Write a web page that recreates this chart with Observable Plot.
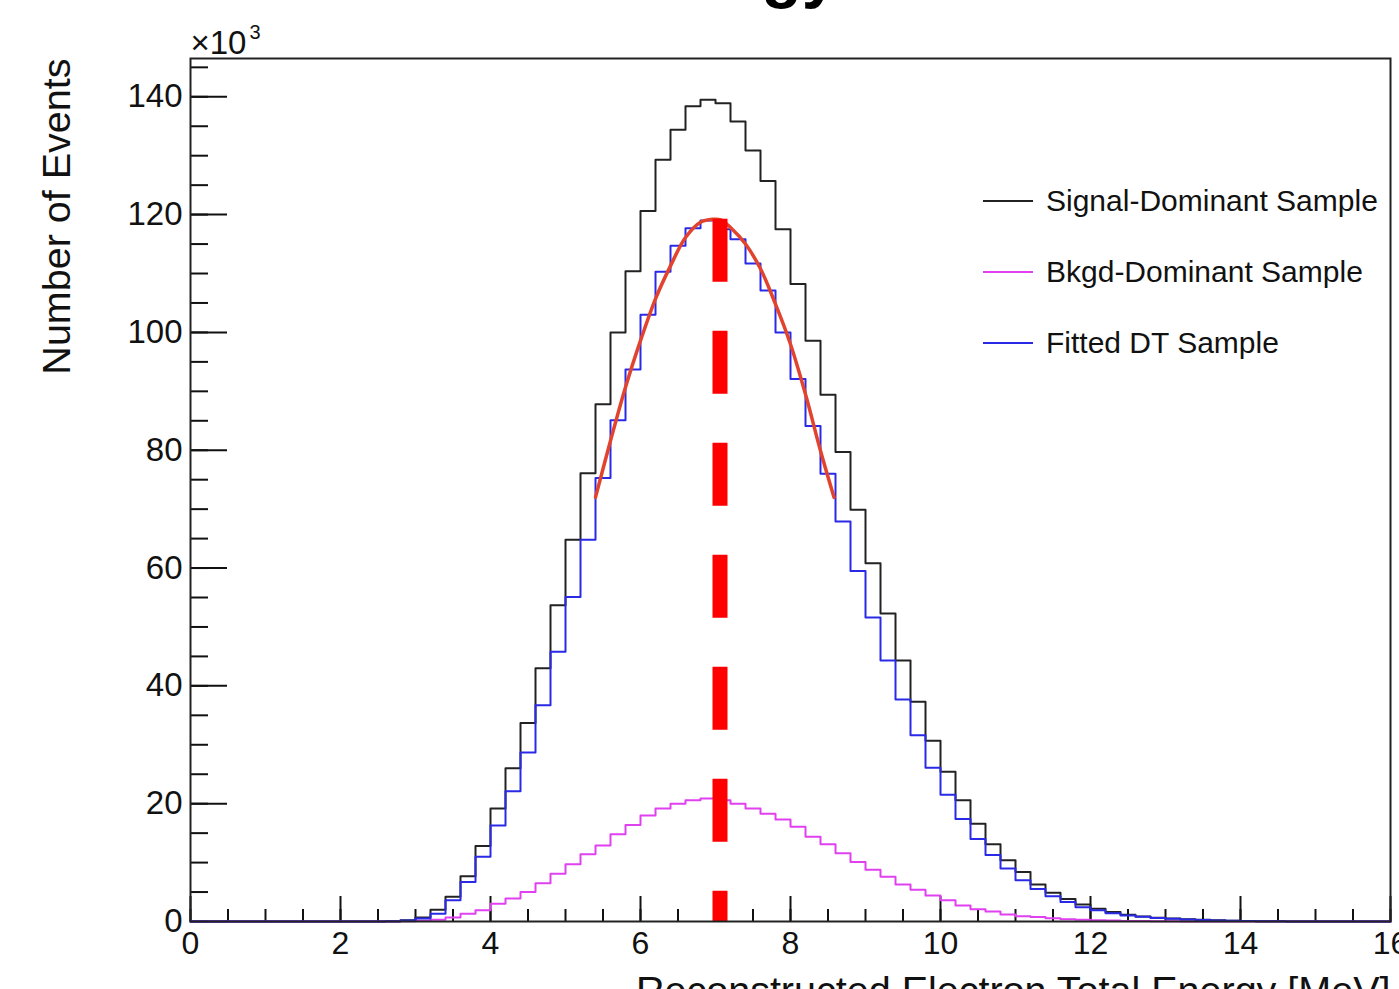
<!DOCTYPE html>
<html>
<head>
<meta charset="utf-8">
<script src="https://cdn.jsdelivr.net/npm/d3@7"></script>
<script src="https://cdn.jsdelivr.net/npm/@observablehq/plot@0.6"></script>
<style>
html,body{margin:0;padding:0;background:#fff;overflow:hidden;}
#wrap{position:relative;width:1399px;height:989px;font-family:"Liberation Sans",Arial,Helvetica,sans-serif;}
#legend{position:absolute;left:983px;top:0;}
.row{position:absolute;left:0;height:40px;display:flex;align-items:center;white-space:nowrap;font-size:30px;color:#111;}
.swatch{width:50px;height:2px;margin-right:13px;}
</style>
</head>
<body>
<div id="wrap"><div id="legend"></div></div>
<script>
// ---- data (thousands of events per 0.2 MeV bin, first bin starts at 2.6 MeV) ----
const binWidth = 0.2;
const firstBin = 2.6;
const signalDominant = [0.05,0.2,0.7,2.0,4.2,7.7,12.8,19.2,26.0,33.7,43.0,53.7,64.8,76.1,87.8,100.0,110.4,120.6,129.3,134.4,138.4,139.5,138.9,135.8,130.9,125.7,117.5,108.2,98.6,89.4,79.7,69.9,60.8,52.3,44.3,37.3,30.7,25.4,20.6,16.6,13.1,10.4,8.4,6.3,4.9,3.8,2.9,2.15,1.6,1.15,0.85,0.65,0.5,0.38,0.28,0.2,0.14,0.1,0.06,0.04,0.02];
const bkgdDominant = [0.02,0.05,0.12,0.3,0.7,1.3,1.9,3.0,3.9,5.0,6.5,8.1,9.7,11.4,12.9,14.8,16.4,18.0,19.2,20.0,20.6,20.9,20.6,20.0,19.2,18.3,17.3,16.1,14.4,13.1,11.6,10.1,8.8,7.6,6.3,5.4,4.4,3.6,2.7,2.1,1.7,1.2,0.9,0.75,0.55,0.4,0.3,0.22,0.15,0.1,0.07,0.05,0.03];
const fittedDT = [0.03,0.15,0.5,1.3,3.6,6.7,11.0,16.3,22.1,28.7,36.7,45.8,55.1,64.8,75.3,85.1,93.7,103.0,110.3,114.7,117.7,119.0,117.5,115.8,111.7,107.1,100.0,92.1,84.1,76.0,67.9,59.5,51.6,44.3,37.7,31.6,26.1,21.5,17.4,14.0,11.3,9.0,7.0,5.5,4.3,3.3,2.4,1.9,1.4,1.0,0.8,0.6,0.45,0.33,0.24,0.17,0.12,0.08,0.05,0.03,0.02];
// fitted curve
const fitEnergy = [5.4,5.6,5.8,6.0,6.2,6.4,6.6,6.8,6.96,7.07,7.2,7.4,7.6,7.8,8.0,8.2,8.4,8.58];
const fitValue  = [72.0,81.6,90.7,98.6,105.7,111.3,116.1,118.7,119.2,119.1,117.8,115.0,110.8,104.8,98.0,89.5,79.9,72.0];
const fitMean = 7.06;
const fitPeak = 119.2;
// axes
const xTicksMajor = [0,2,4,6,8,10,12,14,16];
const xTicksMinor = d3.range(0, 16.01, 0.5);
const yTicksMajor = [0,20,40,60,80,100,120,140];
const yTicksMinor = d3.range(0, 146, 5);
const yMax = 146.5;
const legendLabels = ["Signal-Dominant Sample","Bkgd-Dominant Sample","Fitted DT Sample"];
const legendColors = ["#222222","#e040f0","#2a2ae6"];

// ---- build ----
function steps(vals, series){
  const pts = [{x:0, y:0, s:series}];
  vals.forEach((v,i)=>pts.push({x:+(firstBin+i*binWidth).toFixed(2), y:v, s:series}));
  const end = +(firstBin+vals.length*binWidth).toFixed(2);
  pts.push({x:end, y:0, s:series});
  pts.push({x:16, y:0, s:series});
  return pts;
}
const fitData = fitEnergy.map((e,i)=>({x:e, y:fitValue[i]}));

const W=1399, H=989, mL=190, mR=9, mT=58, mB=68;
const innerW = W-mL-mR, innerH = H-mT-mB;
const font = "Liberation Sans, Arial, Helvetica, sans-serif";

const chart = Plot.plot({
  width: W, height: H,
  marginLeft: mL, marginRight: mR, marginTop: mT, marginBottom: mB,
  style: {fontFamily: font, background: "white", color: "#111"},
  x: {domain: [0,16]},
  y: {domain: [0,yMax]},
  marks: [
    Plot.ruleX(xTicksMinor, {insetTop: innerH-12, stroke:"#111", strokeWidth:2}),
    Plot.ruleX(xTicksMajor, {insetTop: innerH-25, stroke:"#111", strokeWidth:2}),
    Plot.ruleY(yTicksMinor, {insetRight: innerW-18, stroke:"#111", strokeWidth:2}),
    Plot.ruleY(yTicksMajor, {insetRight: innerW-37, stroke:"#111", strokeWidth:2}),
    Plot.axisX({ticks: xTicksMajor, tickSize:0, tickPadding:10, fontSize:32, label:null, tickFormat: d=>String(d)}),
    Plot.axisY({ticks: yTicksMajor, tickSize:0, tickPadding:8, fontSize:33, label:null, tickFormat: d=>String(d)}),
    Plot.line(steps(signalDominant,"s"), {x:"x", y:"y", curve:"step-after", stroke:legendColors[0], strokeWidth:2}),
    Plot.line(steps(bkgdDominant,"b"), {x:"x", y:"y", curve:"step-after", stroke:legendColors[1], strokeWidth:2}),
    Plot.line(steps(fittedDT,"f"), {x:"x", y:"y", curve:"step-after", stroke:legendColors[2], strokeWidth:2}),
    Plot.line(fitData, {x:"x", y:"y", curve:"catmull-rom", stroke:"#e2432e", strokeWidth:3.5}),
    Plot.ruleX([fitMean], {y1: fitPeak, y2: 0, stroke:"#ff0000", strokeWidth:15, strokeDasharray:"63,49"}),
    Plot.frame({stroke:"#222", strokeWidth:2}),
    Plot.text(["Number of Events"], {frameAnchor:"top-left", dx:-133, rotate:-90, textAnchor:"end", lineAnchor:"middle", fontSize:39.5, fill:"#111"}),
    Plot.text(["Reconstructed Electron Total Energy [MeV]"], {frameAnchor:"bottom-right", textAnchor:"end", lineAnchor:"top", dy:54, fontSize:39.5, fill:"#111"}),
    Plot.text(["×10"], {frameAnchor:"top-left", textAnchor:"start", lineAnchor:"top", dy:-28, fontSize:33, fill:"#111"}),
    Plot.text(["3"], {frameAnchor:"top-left", textAnchor:"start", lineAnchor:"top", dx:59, dy:-34, fontSize:20, fill:"#111"}),
    Plot.text(["Energy"], {frameAnchor:"top-left", textAnchor:"end", lineAnchor:"top", dx:648, dy:-110, fontSize:66, fontWeight:"bold", fill:"#000"})
  ]
});
document.getElementById("wrap").prepend(chart);

const legend = document.getElementById("legend");
const legendY = [201, 272, 343];
legendLabels.forEach((lab,i)=>{
  const row = document.createElement("div");
  row.className = "row";
  row.style.top = (legendY[i]-20)+"px";
  const sw = document.createElement("div");
  sw.className = "swatch";
  sw.style.background = legendColors[i];
  const tx = document.createElement("span");
  tx.textContent = lab;
  row.appendChild(sw); row.appendChild(tx);
  legend.appendChild(row);
});
</script>
</body>
</html>
